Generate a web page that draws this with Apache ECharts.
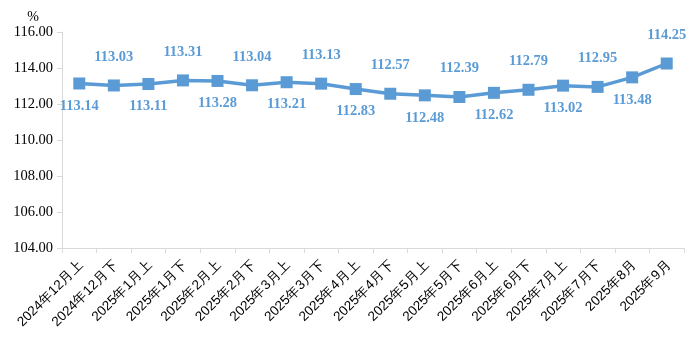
<!DOCTYPE html>
<html><head><meta charset="utf-8">
<script src="https://cdn.jsdelivr.net/npm/echarts@6/dist/echarts.min.js"></script>
<style>html,body{margin:0;padding:0;background:#fff}#c{width:693px;height:341px}</style>
</head><body><div id="c"></div>
<script>
var categories = ['2024年12月上','2024年12月下','2025年1月上','2025年1月下','2025年2月上','2025年2月下','2025年3月上','2025年3月下','2025年4月上','2025年4月下','2025年5月上','2025年5月下','2025年6月上','2025年6月下','2025年7月上','2025年7月下','2025年8月','2025年9月'];
var values = [113.14,113.03,113.11,113.31,113.28,113.04,113.21,113.13,112.83,112.57,112.48,112.39,112.62,112.79,113.02,112.95,113.48,114.25];
var labelPositions = ['bottom','top','bottom','top','bottom','top','bottom','top','bottom','top','bottom','top','bottom','top','bottom','top','bottom','top'];

var chart = echarts.init(document.getElementById('c'));
var data = values.map(function(v,i){
  var up = labelPositions[i]==='top';
  return {value:v,label:{position:labelPositions[i],distance: up?15:9}};
});
chart.setOption({
  animation:false,
  grid:{left:62,right:9,top:32,bottom:93},
  xAxis:{type:'category',data:categories,boundaryGap:true,
    axisLine:{lineStyle:{color:'#d9d9d9'}},
    axisTick:{show:true,length:5,lineStyle:{color:'#d9d9d9'}},
    axisLabel:{rotate:45,interval:0,color:'#000',fontFamily:'Liberation Sans',fontSize:13.5,margin:17,padding:[13,-3,0,0]}},
  yAxis:{type:'value',min:104,max:116,interval:2,name:'%',
    nameTextStyle:{color:'#000',fontFamily:'Liberation Serif',fontSize:14,padding:[0,58,-2,0]},
    nameGap:8,
    splitLine:{show:false},
    axisLine:{show:true,lineStyle:{color:'#d9d9d9'}},
    axisTick:{show:true,length:5,lineStyle:{color:'#d9d9d9'}},
    axisLabel:{formatter:function(v){return v.toFixed(2);},color:'#000',fontFamily:'Liberation Serif',fontSize:14.5,margin:9}},
  series:[{type:'line',data:data,symbol:'rect',symbolSize:12,
    lineStyle:{color:'#5b9bd5',width:3.5},
    itemStyle:{color:'#5b9bd5'},
    label:{show:true,color:'#5b9bd5',fontFamily:'Liberation Serif',fontWeight:'bold',fontSize:14.5,
      formatter:function(p){return p.value.toFixed(2);}}}]
});
</script></body></html>
